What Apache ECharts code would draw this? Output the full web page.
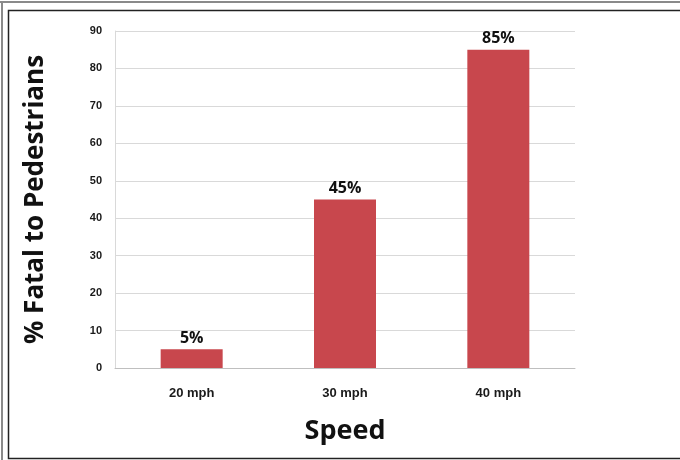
<!DOCTYPE html>
<html>
<head>
<meta charset="utf-8">
<script src="https://cdn.jsdelivr.net/npm/echarts@6/dist/echarts.min.js"></script>
<style>
  html, body { margin: 0; padding: 0; background: #fff; }
  #chart { width: 680px; height: 460px; }
</style>
</head>
<body>
<div id="chart"></div>
<script>
const speeds = ['20 mph', '30 mph', '40 mph']
const fatalPct = [5, 45, 85]

const chart = echarts.init(document.getElementById('chart'))

const option = {
  backgroundColor: '#fff',
  animation: false,
  grid: { left: 115, right: 105, top: 31, bottom: 92 },
  graphic: [
    // scanned frame lines
    { type: 'line', shape: { x1: 0, y1: 2, x2: 680, y2: 2 }, style: { stroke: '#8a8a8a', lineWidth: 2 } },
    { type: 'line', shape: { x1: 2, y1: 2, x2: 2, y2: 460 }, style: { stroke: '#8a8a8a', lineWidth: 2 } },
    { type: 'rect', shape: { x: 8.5, y: 10.5, width: 680, height: 448 }, style: { fill: 'none', stroke: '#222', lineWidth: 1.5 } }
  ],
  xAxis: {
    type: 'category',
    data: speeds,
    name: 'Speed',
    nameLocation: 'middle',
    nameGap: 50,
    nameTextStyle: { fontFamily: 'Open Sans', fontWeight: 'bold', fontSize: 27, color: '#111' },
    axisLine: { lineStyle: { color: '#bfbfbf' } },
    axisTick: { show: false },
    axisLabel: { fontFamily: 'Liberation Sans', fontWeight: 'bold', fontSize: 13, color: '#1a1a1a', margin: 19 }
  },
  yAxis: {
    type: 'value',
    min: 0,
    max: 90,
    interval: 10,
    name: '% Fatal to Pedestrians',
    nameLocation: 'middle',
    nameGap: 66,
    nameRotate: 90,
    nameTextStyle: { fontFamily: 'Open Sans', fontWeight: 'bold', fontSize: 26, color: '#111' },
    axisLine: { show: true, lineStyle: { color: '#d9d9d9' } },
    axisTick: { show: false },
    splitLine: { lineStyle: { color: '#d9d9d9' } },
    axisLabel: { fontFamily: 'Liberation Sans', fontWeight: 'bold', fontSize: 11, color: '#1a1a1a', margin: 13 }
  },
  series: [
    {
      type: 'bar',
      data: fatalPct,
      barWidth: 62,
      itemStyle: { color: '#c8474d' },
      label: {
        show: true,
        position: 'top',
        distance: 3,
        formatter: '{c}%',
        fontFamily: 'Open Sans',
        fontWeight: 'bold',
        fontSize: 16,
        color: '#111'
      }
    }
  ]
}

chart.setOption(option)
</script>
</body>
</html>
